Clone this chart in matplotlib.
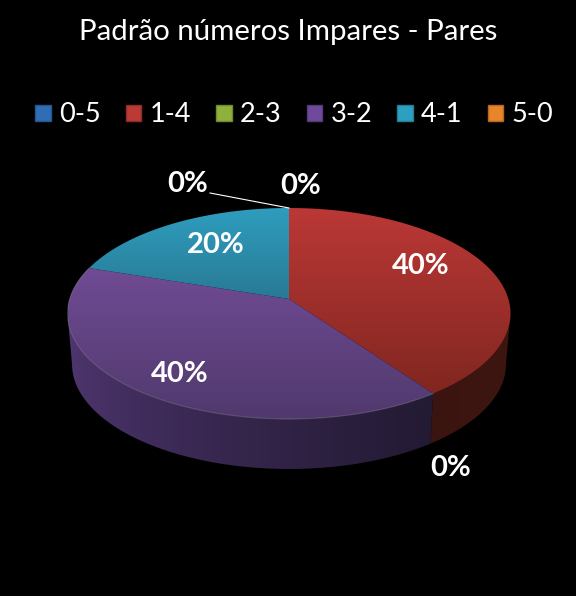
import numpy as np
import matplotlib
matplotlib.use('Agg')
import matplotlib.pyplot as plt
from matplotlib.patches import Patch, PathPatch
from matplotlib.path import Path

# Data
categories = ['0-5', '1-4', '2-3', '3-2', '4-1', '5-0']
values = [0, 40, 0, 40, 20, 0]
labels = ['0%', '40%', '0%', '40%', '20%', '0%']
title = 'Padrão números Impares - Pares'

# Colours
legend_colors = ['#2f6db5', '#bb3a36', '#8fb03c', '#6f4a9c', '#2d9fc0', '#e8842a']
legend_edges = ['#25568f', '#8f2c29', '#6f8a2e', '#56397a', '#237d97', '#b5671f']
top_colors = {
    '1-4': ('#bb3836', '#812620'),
    '3-2': ('#704b94', '#50396d'),
    '4-1': ('#2f9dbe', '#287a95'),
}
wall_colors = {
    '1-4': ('#3a1410', '#3e1610'),
    '3-2': ('#4f3670', '#231a33'),
    '4-1': ('#1d5c70', '#1d5c70'),
}

plt.rcParams['font.family'] = ['Lato', 'DejaVu Sans']
fig = plt.figure(figsize=(5.76, 5.96), dpi=100, facecolor='black')
ax = fig.add_axes([0, 0, 1, 1])
ax.set_xlim(0, 576)
ax.set_ylim(596, 0)
ax.axis('off')

# Pie geometry in pixels
cx, cy = 289, 313.5
a, b = 221.5, 105.5
apex_y = 299
low_cy, low_a, low_b = 364, 217, 105


def rim_point(theta):
    # ray from the apex out to the rim ellipse, theta clockwise from the top
    dx, dy = a * np.sin(theta), -b * np.cos(theta)
    off = apex_y - cy
    qa = (dx / a) ** 2 + (dy / b) ** 2
    qb = 2 * dy * off / b ** 2
    qc = (off / b) ** 2 - 1
    t = (-qb + np.sqrt(qb ** 2 - 4 * qa * qc)) / (2 * qa)
    return cx + dx * t, apex_y + dy * t


def fill_gradient(path, c0, c1, horizontal=False, z=1):
    rgb0 = np.array(matplotlib.colors.to_rgb(c0))
    rgb1 = np.array(matplotlib.colors.to_rgb(c1))
    s = np.linspace(0, 1, 256)[:, None]
    if horizontal:
        s = s ** 0.7
    grad = rgb0 + (rgb1 - rgb0) * s
    grad = grad[None, :, :] if horizontal else grad[:, None, :]
    x0, y0 = path.vertices.min(axis=0)
    x1, y1 = path.vertices.max(axis=0)
    im = ax.imshow(grad, extent=(x0, x1, y1, y0), aspect='auto', zorder=z,
                   interpolation='bilinear')
    patch = PathPatch(path, transform=ax.transData, fc='none', ec='none')
    ax.add_patch(patch)
    im.set_clip_path(patch)


fractions = np.cumsum([0] + values) / sum(values)
for i, cat in enumerate(categories):
    if values[i] == 0:
        continue
    th = 2 * np.pi * np.linspace(fractions[i], fractions[i + 1], 120)
    rx, ry = rim_point(th)

    # side wall, only the front half of the ellipse shows
    phi = np.arctan2((rx - cx) / a, -(ry - cy) / b) % (2 * np.pi)
    lo, hi = max(phi.min(), np.pi / 2), min(phi.max(), 3 * np.pi / 2)
    if hi > lo:
        p = np.linspace(lo, hi, 120)
        ux, uy = cx + a * np.sin(p), cy - b * np.cos(p)
        wx, wy = cx + low_a * np.sin(p), low_cy - low_b * np.cos(p)
        wall = Path(np.column_stack([np.r_[ux, wx[::-1], ux[0]], np.r_[uy, wy[::-1], uy[0]]]), closed=True)
        fill_gradient(wall, *wall_colors[cat], horizontal=True, z=1)

    # top face
    top = Path(np.column_stack([np.r_[cx, rx, cx], np.r_[apex_y, ry, apex_y]]), closed=True)
    fill_gradient(top, *top_colors[cat], z=2)

# faint highlight on the front edge
th = np.linspace(0.4, 0.8, 100) * 2 * np.pi
rx, ry = rim_point(th)
ax.plot(rx, ry, color='white', alpha=0.2, lw=0.7, zorder=3)

# Data labels
label_xy = [(301, 186), (421, 266), (451, 468), (180, 374), (216, 245), (188, 184)]
for txt, (x, y) in zip(labels, label_xy):
    ax.text(x, y, txt, color='white', fontsize=21, fontweight='bold',
            ha='center', va='center', zorder=5)
ax.plot([210, 289], [193, 208], color='white', lw=0.8, zorder=4)

# Title and legend
ax.text(288, 32, title, color='white', fontsize=21.2, ha='center', va='center')
handles = [Patch(facecolor=c, edgecolor=e, label=n) for c, e, n in zip(legend_colors, legend_edges, categories)]
ax.legend(handles=handles, ncol=6, loc='center', bbox_to_anchor=(294 / 576, 1 - 115 / 596),
          frameon=False, labelcolor='white', fontsize=19.5, handlelength=0.58, handleheight=0.58,
          handletextpad=0.3, columnspacing=0.925, borderpad=0, borderaxespad=0)

plt.savefig('out.png', dpi=100, facecolor='black')
plt.close()
